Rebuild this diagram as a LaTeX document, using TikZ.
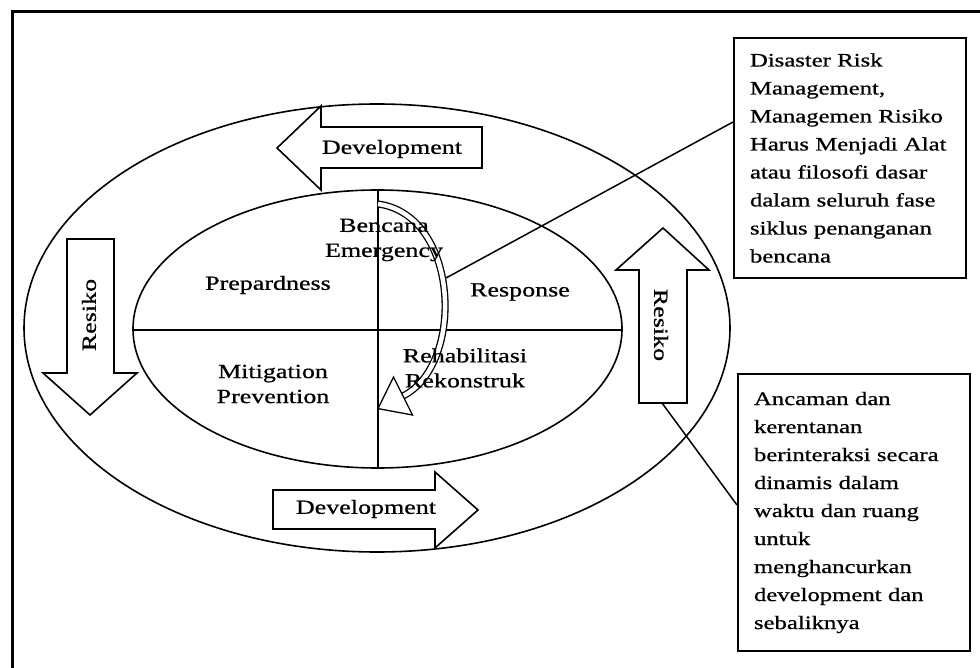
\documentclass[tikz,border=0pt]{standalone}
\usepackage{fontspec}
\setmainfont[FakeStretch=1.3,FakeBold=0.8]{Liberation Serif}
\begin{document}
\begin{tikzpicture}[x=1pt,y=-1pt, line join=miter,
  frame/.style={line width=3pt},
  ring/.style={line width=1.6pt},
  blockarrow/.style={draw, line width=1.6pt, fill=white},
  lbl/.style={font=\fontsize{20}{25}\selectfont, align=center, inner sep=0pt},
  notebox/.style={draw, line width=2pt, font=\fontsize{19}{28}\selectfont, align=left,
     text width=200pt, inner xsep=16pt, anchor=north west},
  link/.style={line width=1.5pt}]
\useasboundingbox (0,0) rectangle (980,668);
\draw[frame] (980,12) -- (12,12) -- (12,670);

% ellipses and axes
\draw[ring] (377,328) ellipse [x radius=353, y radius=224];
\draw[ring] (377.5,329) ellipse [x radius=244.5, y radius=139];
\draw[ring] (133,330) -- (622,330);
\draw[ring] (378,190) -- (378,468);

% block arrows
\draw[blockarrow] (277,148) -- (321,106) -- (321,127) -- (482,127) -- (482,168) -- (321,168) -- (321,190) -- cycle;
\node[lbl] (devtop) at (392,149) {Development};
\draw[blockarrow] (273,490) -- (435,490) -- (435,472) -- (478,510) -- (435,548) -- (435,529) -- (273,529) -- cycle;
\node[lbl] (devbot) at (366,509) {Development};
\draw[blockarrow] (67,239) -- (114,239) -- (114,373) -- (137,373) -- (90,415) -- (43,373) -- (67,373) -- cycle;
\node[lbl, rotate=90] (resleft) at (89,315) {Resiko};
\draw[blockarrow] (639,403) -- (687,403) -- (687,270) -- (709,270) -- (663,228) -- (616,270) -- (639,270) -- cycle;
\node[lbl, rotate=-90] (resright) at (661,325) {Resiko};

% curved arrow
\draw[line width=1.3pt, double=white, double distance=4.5pt] (378,204) .. controls (460,215) and (465,365) .. (403,396);
\draw[line width=1.3pt, fill=white] (393.5,377) -- (378,408.6) -- (412.5,415) -- cycle;

% phase labels
\node[lbl] (prep) at (268,285) {Prepardness};
\node[lbl] (resp) at (520,292) {Response};
\node[lbl] (miti) at (273,384) {Mitigation\\Prevention};
\node[lbl] (reha) at (465,368) {Rehabilitasi\\Rekonstruk};
\node[lbl] (benc) at (384,240) {Bencana\\Emergency};

% notes
\node[notebox, minimum height=240pt] (box1) at (733,37)
 {Disaster~Risk\\Management,\\Managemen~Risiko\\Harus~Menjadi~Alat\\atau~filosofi~dasar\\dalam~seluruh~fase\\siklus~penanganan\\bencana};
\node[notebox, minimum height=277pt] (box2) at (737,373)
 {Ancaman~dan\\kerentanan\\berinteraksi~secara\\dinamis~dalam\\waktu~dan~ruang\\untuk\\menghancurkan\\development~dan\\sebaliknya};

\coordinate (hit) at (446,278);
\coordinate (rtail) at (662,403);
\draw[link] (hit) -- ([yshift=-85pt]box1.north west);
\draw[link] (rtail) -- ([yshift=-132pt]box2.north west);
\end{tikzpicture}
\end{document}
